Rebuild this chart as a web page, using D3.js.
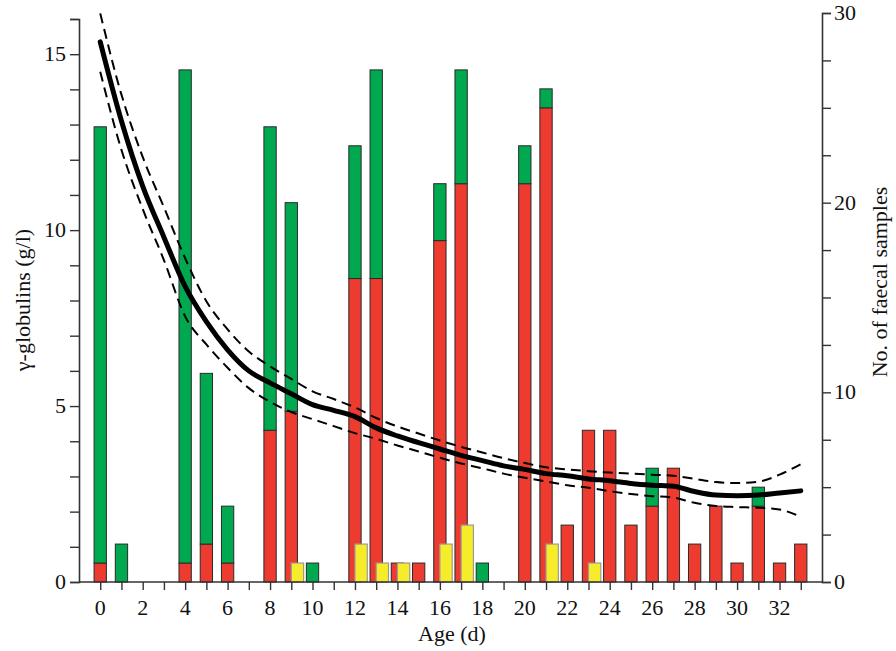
<!DOCTYPE html>
<html>
<head>
<meta charset="utf-8">
<script src="https://cdn.jsdelivr.net/npm/d3@7"></script>
<style>
  html, body { margin: 0; padding: 0; background: #fff; }
  svg text { font-family: "Liberation Serif", "Times New Roman", Times, serif; fill: #111; }
</style>
</head>
<body>
<svg id="chart" width="896" height="651"></svg>
<script>
// Age in days
const days = d3.range(0, 34);

// Number of faecal samples per day, by category (stacked red + green, yellow beside)
const redCounts    = [1,0,0,0,1,2,1,0,8,9,0,0,16,16,1,1,18,21,0,0,21,25,3,8,8,3,4,6,2,4,1,4,1,2];
const greenCounts  = [23,2,0,0,26,9,3,0,16,11,1,0,7,11,0,0,3,6,1,0,2,1,0,0,0,0,2,0,0,0,0,1,0,0];
const yellowCounts = [0,0,0,0,0,0,0,0,0,1,0,0,2,1,1,0,2,3,0,0,0,2,0,1,0,0,0,0,0,0,0,0,0,0];

// Fitted γ-globulin concentration (g/l) with lower / upper bands
const gammaFit   = [15.35,13.1,11.25,9.8,8.4,7.4,6.6,6.0,5.66,5.35,5.04,4.88,4.7,4.38,4.15,3.96,3.78,3.6,3.45,3.3,3.2,3.08,3.02,2.93,2.88,2.8,2.75,2.72,2.57,2.47,2.45,2.47,2.53,2.59];
const gammaUpper = [16.16,13.85,12.08,10.65,9.2,7.98,7.18,6.55,6.13,5.77,5.42,5.2,4.96,4.66,4.42,4.22,4.02,3.84,3.68,3.52,3.38,3.26,3.2,3.15,3.11,3.08,3.05,3.02,2.93,2.84,2.81,2.85,3.05,3.35];
const gammaLower = [14.5,12.28,10.6,9.15,7.55,6.75,6.09,5.51,5.12,4.83,4.63,4.43,4.23,4.07,3.88,3.71,3.53,3.37,3.23,3.08,2.96,2.86,2.75,2.68,2.58,2.5,2.44,2.4,2.25,2.16,2.13,2.11,2.06,1.85];

// Axis tick values
const xTickValues      = d3.range(0, 34);
const xLabelValues     = d3.range(0, 34, 2);
const leftTickValues   = d3.range(0, 17);
const leftLabelValues  = [0, 5, 10, 15];
const rightTickValues  = d3.range(0, 30.1, 2.5);
const rightLabelValues = [0, 10, 20, 30];

const colors = { red: "#ee3b2f", green: "#00a94f", yellow: "#f7ec29" };

const svg = d3.select("#chart");

const x = d3.scaleLinear().domain([-1, 34]).range([79, 822]);
const yL = d3.scaleLinear().domain([0, 16]).range([582, 19]);
const yR = d3.scaleLinear().domain([0, 30]).range([582, 13]);

const barW = x(0.58) - x(0);

// Bars: red at the bottom, green stacked on top
const rows = days.map((d, i) => ({ day: d, red: redCounts[i], green: greenCounts[i], yellow: yellowCounts[i] }));

const barG = svg.append("g");
rows.forEach(r => {
  if (r.red > 0) {
    barG.append("rect")
      .attr("x", x(r.day) - barW / 2).attr("width", barW)
      .attr("y", yR(r.red)).attr("height", yR(0) - yR(r.red))
      .attr("fill", colors.red).attr("stroke", "#2a2a2a").attr("stroke-width", 1);
  }
  if (r.green > 0) {
    barG.append("rect")
      .attr("x", x(r.day) - barW / 2).attr("width", barW)
      .attr("y", yR(r.red + r.green)).attr("height", yR(r.red) - yR(r.red + r.green))
      .attr("fill", colors.green).attr("stroke", "#2a2a2a").attr("stroke-width", 1);
  }
});
// Yellow bars, shifted half a bar to the right and drawn over
rows.forEach(r => {
  if (r.yellow > 0) {
    barG.append("rect")
      .attr("x", x(r.day)).attr("width", barW)
      .attr("y", yR(r.yellow)).attr("height", yR(0) - yR(r.yellow))
      .attr("fill", colors.yellow).attr("stroke", "#9a9a9a").attr("stroke-width", 1.2);
  }
});

// Fitted curve and bands
const line = (vals) => d3.line()
  .x((d, i) => x(days[i]))
  .y(d => yL(d))
  .curve(d3.curveMonotoneX)(vals);

[gammaUpper, gammaLower].forEach(vals => {
  svg.append("path").attr("d", line(vals))
    .attr("fill", "none").attr("stroke", "#000").attr("stroke-width", 2)
    .attr("stroke-dasharray", "10,6");
});
svg.append("path").attr("d", line(gammaFit))
  .attr("fill", "none").attr("stroke", "#000").attr("stroke-width", 5).attr("stroke-linecap", "round");

// Axes
const axisColor = "#333";
const fontSize = 22;

const xAxis = svg.append("g").attr("transform", `translate(0,${yL(0)})`)
  .call(d3.axisBottom(x).tickValues(xTickValues).tickSize(8).tickFormat(""));
xAxis.select(".domain").attr("d", `M${x(-1)},0H${x(34)}`);
svg.append("g").selectAll("text").data(xLabelValues).join("text")
  .attr("x", d => x(d)).attr("y", yL(0) + 33)
  .attr("text-anchor", "middle").attr("font-size", fontSize).text(d => d);

const leftAxis = svg.append("g").attr("transform", `translate(${x(-1)},0)`)
  .call(d3.axisLeft(yL).tickValues(leftTickValues).tickSize(9).tickFormat(""));
svg.append("g").selectAll("text").data(leftLabelValues).join("text")
  .attr("x", x(-1) - 13).attr("y", d => yL(d) + 7)
  .attr("text-anchor", "end").attr("font-size", fontSize).text(d => d);

const rightAxis = svg.append("g").attr("transform", `translate(${x(34)},0)`)
  .call(d3.axisRight(yR).tickValues(rightTickValues).tickSize(9).tickFormat(""));
svg.append("g").selectAll("text").data(rightLabelValues).join("text")
  .attr("x", x(34) + 12).attr("y", d => yR(d) + 7)
  .attr("text-anchor", "start").attr("font-size", fontSize).text(d => d);

[xAxis, leftAxis, rightAxis].forEach(g => {
  g.select(".domain").attr("stroke", axisColor).attr("stroke-width", 1.6);
  g.selectAll(".tick line").attr("stroke", axisColor).attr("stroke-width", 1.4);
});

// Axis titles
svg.append("text").attr("x", 452).attr("y", 641)
  .attr("text-anchor", "middle").attr("font-size", fontSize).text("Age (d)");
svg.append("text").attr("transform", `translate(30,300) rotate(-90)`)
  .attr("text-anchor", "middle").attr("font-size", fontSize).text("γ-globulins (g/l)");
svg.append("text").attr("transform", `translate(887,282) rotate(-90)`)
  .attr("text-anchor", "middle").attr("font-size", fontSize).text("No. of faecal samples");
</script>
</body>
</html>
